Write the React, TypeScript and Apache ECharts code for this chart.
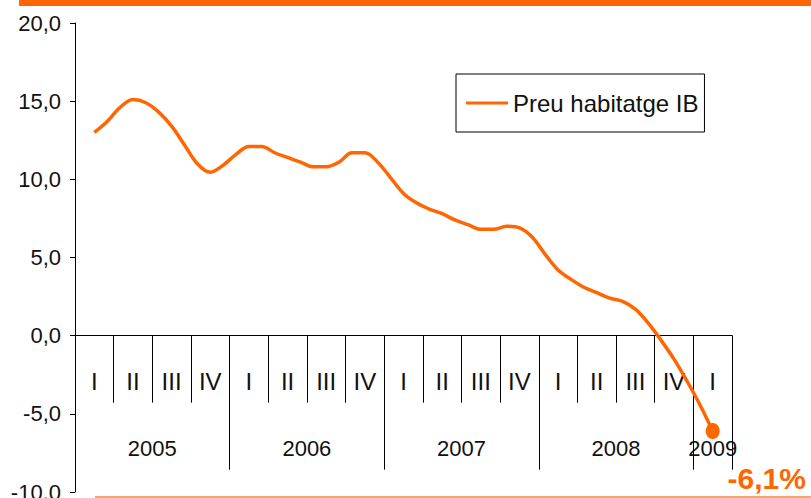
import React, { useEffect, useRef } from "react";
import * as echarts from "echarts";

const quarterLabels = ["I", "II", "III", "IV", "I", "II", "III", "IV", "I", "II", "III", "IV", "I", "II", "III", "IV", "I"];
const years = ["2005", "2006", "2007", "2008", "2009"];
const quartersPerYear = [4, 4, 4, 4, 1];
const seriesName = "Preu habitatge IB";
// monthly year-on-year change (%), Feb 2005 .. Feb 2009
const priceValues = [
  13.0, 13.7, 14.6, 15.1, 14.9, 14.3, 13.4, 12.2, 11.0, 10.45, 10.9, 11.6,
  12.1, 12.1, 11.7, 11.4, 11.1, 10.8, 10.8, 11.1, 11.7, 11.7, 11.1, 10.1,
  9.1, 8.5, 8.1, 7.8, 7.4, 7.1, 6.8, 6.8, 7.0, 6.9, 6.3, 5.2,
  4.2, 3.6, 3.1, 2.75, 2.4, 2.2, 1.7, 0.8, -0.3, -1.5, -2.9, -4.4,
  -6.1,
];
const yTicks = { min: -10, max: 20, interval: 5 };

const FONT = "'Liberation Sans', Arial, sans-serif";
const ORANGE = "#FF6600";

const fmt = (v: number) => v.toFixed(1).replace(".", ",");

export default function App() {
  const ref = useRef<HTMLDivElement>(null);
  useEffect(() => {
    if (!ref.current) return;
    const chart = echarts.init(ref.current, undefined, { renderer: "svg" });

    const boundaries: number[] = [0];
    quartersPerYear.forEach((q) => boundaries.push(boundaries[boundaries.length - 1] + q));
    const yearCenters = quartersPerYear.map((q, i) => boundaries[i] + q / 2);
    const totalQ = quarterLabels.length;

    // the zero line of the main grid, where the period axis sits
    const gridTop = 23;
    const gridBottomY = 492;
    const zeroY = gridTop + ((yTicks.max - 0) / (yTicks.max - yTicks.min)) * (gridBottomY - gridTop);

    const data = priceValues.map((v, i) => {
      const x = 0.5 + i / 3;
      if (i === priceValues.length - 1) {
        return {
          value: [x, v],
          symbol: "circle",
          symbolSize: [14, 16],
          label: {
            show: true,
            formatter: fmt(v) + "%",
            position: [61, 55],
            align: "center",
            verticalAlign: "middle",
            color: ORANGE,
            fontSize: 30,
            fontWeight: "bold",
            fontFamily: FONT,
          },
        };
      }
      return { value: [x, v] };
    });

    const baseX = {
      type: "value",
      min: 0,
      max: totalQ,
      splitLine: { show: false },
    };

    chart.setOption({
      animation: false,
      backgroundColor: "#fff",
      grid: [
        { left: 75, right: 79, top: gridTop, bottom: 498 - gridBottomY, containLabel: false, outerBoundsMode: "none" },
        { left: 75, right: 79, top: zeroY - 1, height: 1, containLabel: false, outerBoundsMode: "none" },
      ],
      legend: {
        left: 456,
        top: 74,
        orient: "horizontal",
        borderColor: "#000",
        borderWidth: 1,
        padding: [17, 6, 17, 10],
        itemWidth: 42,
        itemHeight: 3,
        itemGap: 6,
        textStyle: { fontSize: 24, color: "#111", fontFamily: FONT },
        data: [{ name: seriesName, icon: "rect" }],
      },
      xAxis: [
        {
          ...baseX,
          gridIndex: 0,
          show: false,
        },
        {
          ...baseX,
          gridIndex: 1,
          position: "bottom",
          axisLine: { show: true, onZero: false, lineStyle: { color: "#000", width: 1 } },
          axisTick: {
            show: true,
            length: 67,
            customValues: Array.from({ length: totalQ + 1 }, (_, i) => i),
            lineStyle: { color: "#000", width: 1 },
          },
          axisLabel: {
            show: true,
            customValues: quarterLabels.map((_, i) => i + 0.5),
            formatter: (v: number) => quarterLabels[Math.floor(v)],
            margin: 34,
            fontSize: 24,
            color: "#111",
            fontFamily: FONT,
          },
        },
        {
          ...baseX,
          gridIndex: 1,
          position: "bottom",
          axisLine: { show: false, onZero: false },
          axisTick: {
            show: true,
            length: 134,
            customValues: boundaries,
            lineStyle: { color: "#000", width: 1 },
          },
          axisLabel: {
            show: true,
            customValues: yearCenters,
            formatter: (v: number) => years[yearCenters.indexOf(v)] ?? "",
            margin: 102,
            fontSize: 22,
            color: "#111",
            fontFamily: FONT,
          },
        },
      ],
      yAxis: [
        {
          type: "value",
          gridIndex: 0,
          min: yTicks.min,
          max: yTicks.max,
          interval: yTicks.interval,
          axisLine: { show: true, onZero: false, lineStyle: { color: "#000", width: 1 } },
          axisTick: { show: true, length: 5, lineStyle: { color: "#000" } },
          axisLabel: {
            formatter: (v: number) => fmt(v),
            margin: 14,
            fontSize: 22,
            color: "#111",
            fontFamily: FONT,
          },
          splitLine: { show: false },
        },
        {
          type: "value",
          gridIndex: 1,
          min: 0,
          max: 1,
          show: false,
          splitLine: { show: false },
        },
      ],
      graphic: [
        { type: "rect", shape: { x: 19, y: 0, width: 792, height: 6 }, style: { fill: ORANGE } },
        { type: "line", shape: { x1: 95, y1: 497, x2: 811, y2: 497 }, style: { stroke: "#F8A46E", lineWidth: 2 } },
      ],
      series: [
        {
          name: seriesName,
          type: "line",
          xAxisIndex: 0,
          yAxisIndex: 0,
          smooth: 0.35,
          symbol: "none",
          color: ORANGE,
          lineStyle: { color: ORANGE, width: 3.5 },
          itemStyle: { color: ORANGE },
          data,
          z: 5,
        },
      ],
    });
    return () => chart.dispose();
  }, []);
  return (
    <div
      ref={ref}
      style={{ position: "fixed", left: 0, top: 0, width: 811, height: 498 }}
    />
  );
}
